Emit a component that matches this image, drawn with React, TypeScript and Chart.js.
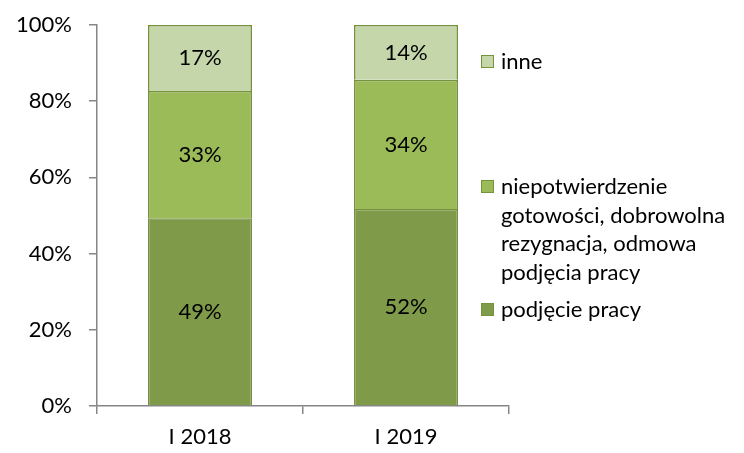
import React, { useEffect, useRef } from "react";
import { Chart, registerables } from "chart.js";

Chart.register(...registerables);

const categories = ["I 2018", "I 2019"];
const seriesNames = [
  "podjęcie pracy",
  "niepotwierdzenie gotowości, dobrowolna rezygnacja, odmowa podjęcia pracy",
  "inne",
];
const podjeciePracy = [49.3, 51.7];
const niepotwierdzenie = [33.4, 33.9];
const inne = [17.3, 14.4];
const yTicks = [0, 20, 40, 60, 80, 100];

const colors = ["#7F9B4A", "#9BBB59", "#C5D7AA"];
const borderColor = "#76923C";
const FONT = "Lato, 'Open Sans', sans-serif";

const legendLines: string[][] = [
  ["inne"],
  ["niepotwierdzenie", "gotowości, dobrowolna", "rezygnacja, odmowa", "podjęcia pracy"],
  ["podjęcie pracy"],
];
const legendColors = [colors[2], colors[1], colors[0]];
const legendTops = [47, 172, 295];

const dataLabelPlugin = {
  id: "dataLabels",
  afterDatasetsDraw(chart: any) {
    const ctx = chart.ctx;
    ctx.save();
    ctx.font = `22px ${FONT}`;
    ctx.fillStyle = "#000";
    ctx.textAlign = "center";
    ctx.textBaseline = "middle";
    chart.data.datasets.forEach((ds: any, di: number) => {
      const meta = chart.getDatasetMeta(di);
      meta.data.forEach((el: any, i: number) => {
        const v = ds.data[i];
        const cy = (el.y + el.base) / 2;
        ctx.fillText(Math.round(v) + "%", el.x, cy);
      });
    });
    ctx.restore();
  },
};

export default function App() {
  const ref = useRef<HTMLCanvasElement | null>(null);
  useEffect(() => {
    document.body.style.margin = "0";
    const ctx = ref.current!;
    const chart = new Chart(ctx, {
      type: "bar",
      data: {
        labels: categories,
        datasets: [podjeciePracy, niepotwierdzenie, inne].map((d, i) => ({
          label: seriesNames[i],
          data: d,
          backgroundColor: colors[i],
          borderColor: borderColor,
          borderWidth: 1.6,
          barPercentage: 0.505,
          categoryPercentage: 1,
        })),
      },
      options: {
        animation: false,
        responsive: false,
        maintainAspectRatio: false,
        layout: { padding: { top: 25, right: 235, left: 0, bottom: 0 } },
        plugins: { legend: { display: false }, tooltip: { enabled: false } },
        scales: {
          x: {
            stacked: true,
            grid: {
              offset: true,
              drawOnChartArea: false,
              drawTicks: true,
              tickLength: 8,
              color: "#868686",
              lineWidth: 1.5,
            },
            border: { color: "#868686", width: 1.5 },
            ticks: { color: "#000", font: { family: FONT, size: 22 }, padding: 10 },
            afterFit: (s: any) => {
              s.height = 47;
              s.paddingLeft = 0;
              s.paddingRight = 0;
            },
          },
          y: {
            stacked: true,
            min: 0,
            max: 100,
            afterBuildTicks: (s: any) => {
              s.ticks = yTicks.map((v) => ({ value: v }));
            },
            grid: {
              drawOnChartArea: false,
              drawTicks: true,
              tickLength: 8,
              color: "#868686",
              lineWidth: 1.5,
            },
            border: { color: "#868686", width: 1.5 },
            ticks: {
              color: "#000",
              font: { family: FONT, size: 22 },
              padding: 17,
              callback: (v: any) => v + "%",
            },
            afterFit: (s: any) => {
              s.width = 97;
              s.paddingTop = 0;
              s.paddingBottom = 0;
            },
          },
        },
      },
      plugins: [dataLabelPlugin],
    });
    return () => chart.destroy();
  }, []);

  return (
    <div style={{ position: "relative", width: 744, height: 453, background: "#fff" }}>
      <canvas ref={ref} width={744} height={453} style={{ position: "absolute", left: 0, top: 0 }} />
      {legendLines.map((lines, i) => (
        <div
          key={i}
          style={{
            position: "absolute",
            left: 481,
            top: legendTops[i],
            fontFamily: FONT,
            fontSize: 22,
            lineHeight: "28.5px",
            color: "#000",
            whiteSpace: "nowrap",
          }}
        >
          <span
            style={{
              position: "absolute",
              left: 0,
              top: 8,
              width: 11,
              height: 11,
              background: legendColors[i],
              border: `1.5px solid ${borderColor}`,
            }}
          />
          <div style={{ marginLeft: 20 }}>
            {lines.map((l, j) => (
              <div key={j}>{l}</div>
            ))}
          </div>
        </div>
      ))}
    </div>
  );
}
